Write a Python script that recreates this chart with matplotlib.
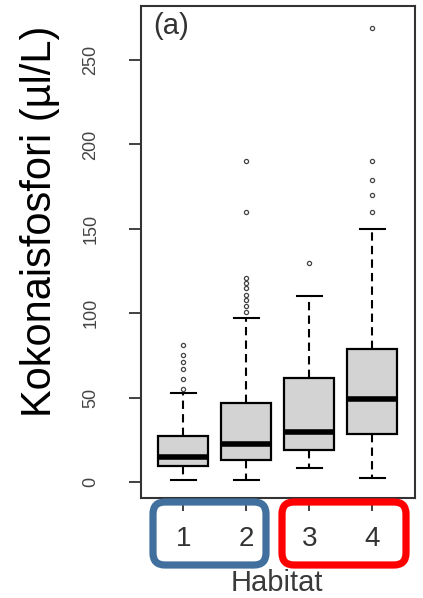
import matplotlib
matplotlib.use("Agg")
import matplotlib.pyplot as plt
from matplotlib.patches import FancyBboxPatch

plt.rcParams['font.family'] = ['Liberation Sans', 'DejaVu Sans']

# Kokonaisfosfori per habitat (luettu kuvasta)
habitats = ["1", "2", "3", "4"]
whislo = [1, 1, 8, 2.5]
q1 = [9.5, 13, 19, 28.5]
med = [15, 22.5, 29.5, 49]
q3 = [27, 47, 61.5, 79]
whishi = [53, 97, 110, 150]
fliers = [
    [55, 61, 67, 71, 75, 81],
    [101, 104, 108, 111, 115, 118, 121, 160, 190],
    [130],
    [160, 170, 179, 190, 269],
]
y_ticks = [0, 50, 100, 150, 200, 250]

stats = []
for i, h in enumerate(habitats):
    stats.append({
        "label": h, "whislo": whislo[i], "q1": q1[i], "med": med[i],
        "q3": q3[i], "whishi": whishi[i], "fliers": fliers[i],
    })

fig = plt.figure(figsize=(4.23, 5.98), dpi=100)
ax = fig.add_axes([0.3333, 0.1672, 0.648, 0.8227])

ax.bxp(stats, positions=[1, 2, 3, 4], widths=0.79, patch_artist=True,
       boxprops=dict(facecolor="#d3d3d3", edgecolor="black", linewidth=1.6),
       medianprops=dict(color="black", linewidth=4),
       whiskerprops=dict(color="black", linewidth=1.5, linestyle=(0, (4, 2.5))),
       capprops=dict(color="black", linewidth=1.5),
       flierprops=dict(marker="o", markersize=3, markerfacecolor="white",
                       markeredgecolor="#444444", markeredgewidth=0.9))

ax.set_xlim(0.33, 4.68)
ax.set_ylim(-9.5, 282)
ax.set_yticks(y_ticks)
ax.set_yticklabels([str(t) for t in y_ticks], rotation=90, va="center",
                   fontsize=13, color="#444444")
ax.set_xticks([1, 2, 3, 4])
ax.set_xticklabels(habitats, fontsize=20, color="#333333")
ax.tick_params(axis="y", length=9, width=1.3, pad=21, color="#333333")
ax.tick_params(axis="x", length=9, width=1.3, pad=11, color="#333333")
for s in ax.spines.values():
    s.set_linewidth(1.5)
    s.set_color("#333333")

ax.set_ylabel("Kokonaisfosfori (µl/L)", fontsize=30, color="black")
ax.yaxis.set_label_coords(-0.296, 0.563)
ax.set_xlabel("Habitat", fontsize=21, color="#3a3a3a")
ax.xaxis.set_label_coords(0.497, -0.145)

ax.text(0.044, 0.988, "(a)", transform=ax.transAxes, fontsize=21,
        color="#333333", ha="left", va="top")

# ryhmittelykehykset
for x0, x1, col in [(1.53, 2.66, "#41709e"), (2.82, 4.06, "#ff0000")]:
    fig.patches.append(FancyBboxPatch(
        (x0, 0.33), x1 - x0, 0.63, boxstyle="round,pad=0,rounding_size=0.12",
        transform=fig.dpi_scale_trans, fill=False, edgecolor=col,
        linewidth=5.2, figure=fig))

fig.savefig("out.png", dpi=100)
